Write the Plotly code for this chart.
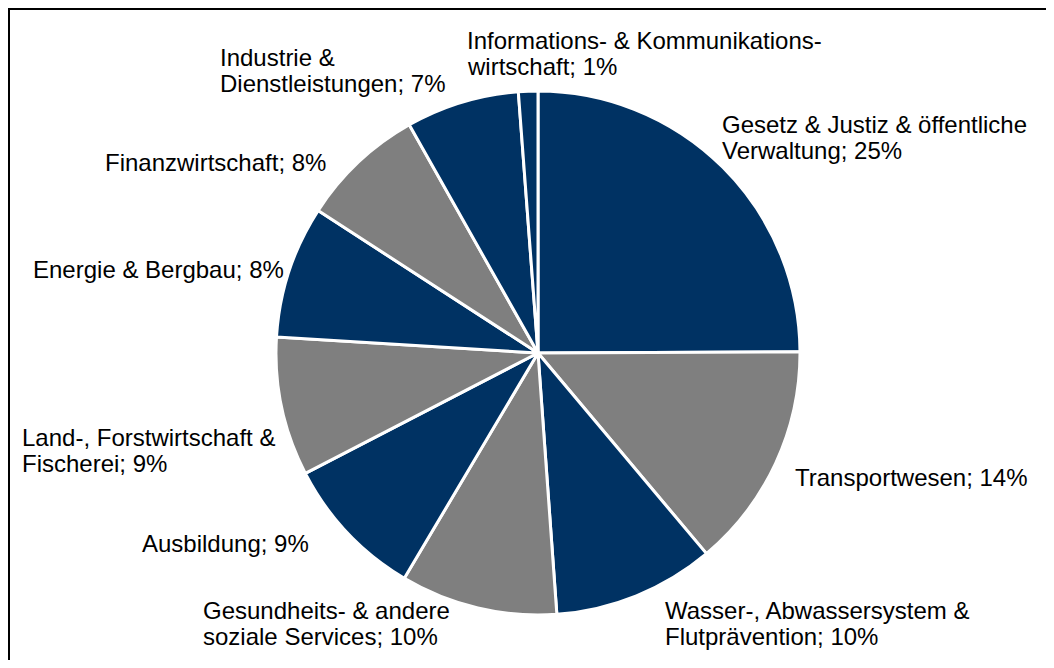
import plotly.graph_objects as go

# -----------------------
# DATA
# -----------------------
sectors = [
    "Gesetz & Justiz & öffentliche<br>Verwaltung",
    "Transportwesen",
    "Wasser-, Abwassersystem &<br>Flutprävention",
    "Gesundheits- & andere<br>soziale Services",
    "Ausbildung",
    "Land-, Forstwirtschaft &<br>Fischerei",
    "Energie & Bergbau",
    "Finanzwirtschaft",
    "Industrie &<br>Dienstleistungen",
    "Informations- & Kommunikations-<br>wirtschaft",
]
shares = [25.0, 14.0, 10.0, 9.7, 8.9, 8.6, 8.2, 7.7, 7.0, 1.2]
share_labels = ["25%", "14%", "10%", "10%", "9%", "9%", "8%", "8%", "7%", "1%"]

NAVY = "#003263"
GRAY = "#7f7f7f"
slice_colors = [NAVY, GRAY, NAVY, GRAY, NAVY, GRAY, NAVY, GRAY, NAVY, NAVY]

# label placement in page pixels: left edge, middle of first line
label_pos = [
    (722, 125),
    (795, 478),
    (665, 610),
    (203, 610),
    (142, 543),
    (22, 437),
    (33, 269),
    (105, 163),
    (220, 57),
    (467, 40),
]
LINE_GAP = 26
PAGE_OFF = 8  # browser body margin

# keep the figure inside the window (body margin on every side)
W, H = 1054 - 2 * PAGE_OFF, 668 - 2 * PAGE_OFF
cx, cy, r = 538 - PAGE_OFF, 353 - PAGE_OFF, 262

fig = go.Figure()

# -----------------------
# PIE
# -----------------------
fig.add_trace(go.Pie(
    labels=[s.replace("<br>", " ") for s in sectors],
    values=shares,
    sort=False,
    direction="clockwise",
    rotation=0,
    textinfo="none",
    hoverinfo="label+percent",
    marker=dict(colors=slice_colors, line=dict(color="white", width=3)),
    domain=dict(
        x=[(cx - r) / W, (cx + r) / W],
        y=[1 - (cy + r) / H, 1 - (cy - r) / H],
    ),
    showlegend=False,
))

# -----------------------
# LABELS
# -----------------------
for name, pct, (lx, ly) in zip(sectors, share_labels, label_pos):
    lines = f"{name}; {pct}".split("<br>")
    for i, line in enumerate(lines):
        fig.add_annotation(
            x=(lx - PAGE_OFF - 2) / W,
            y=1 - (ly - PAGE_OFF + i * LINE_GAP) / H,
            xref="paper", yref="paper",
            xanchor="left", yanchor="middle", align="left",
            text=line,
            showarrow=False,
            font=dict(family="Arial, Liberation Sans, sans-serif", size=24, color="black"),
        )

# -----------------------
# LAYOUT
# -----------------------
fig.update_layout(
    width=W,
    height=H,
    margin=dict(l=0, r=0, t=0, b=0),
    paper_bgcolor="white",
    plot_bgcolor="white",
    shapes=[dict(
        type="rect", xref="paper", yref="paper",
        x0=1 / W, y0=-0.05, x1=1.05, y1=1 - 1 / H,
        line=dict(color="black", width=2),
    )],
)

fig.write_html("out.html")
